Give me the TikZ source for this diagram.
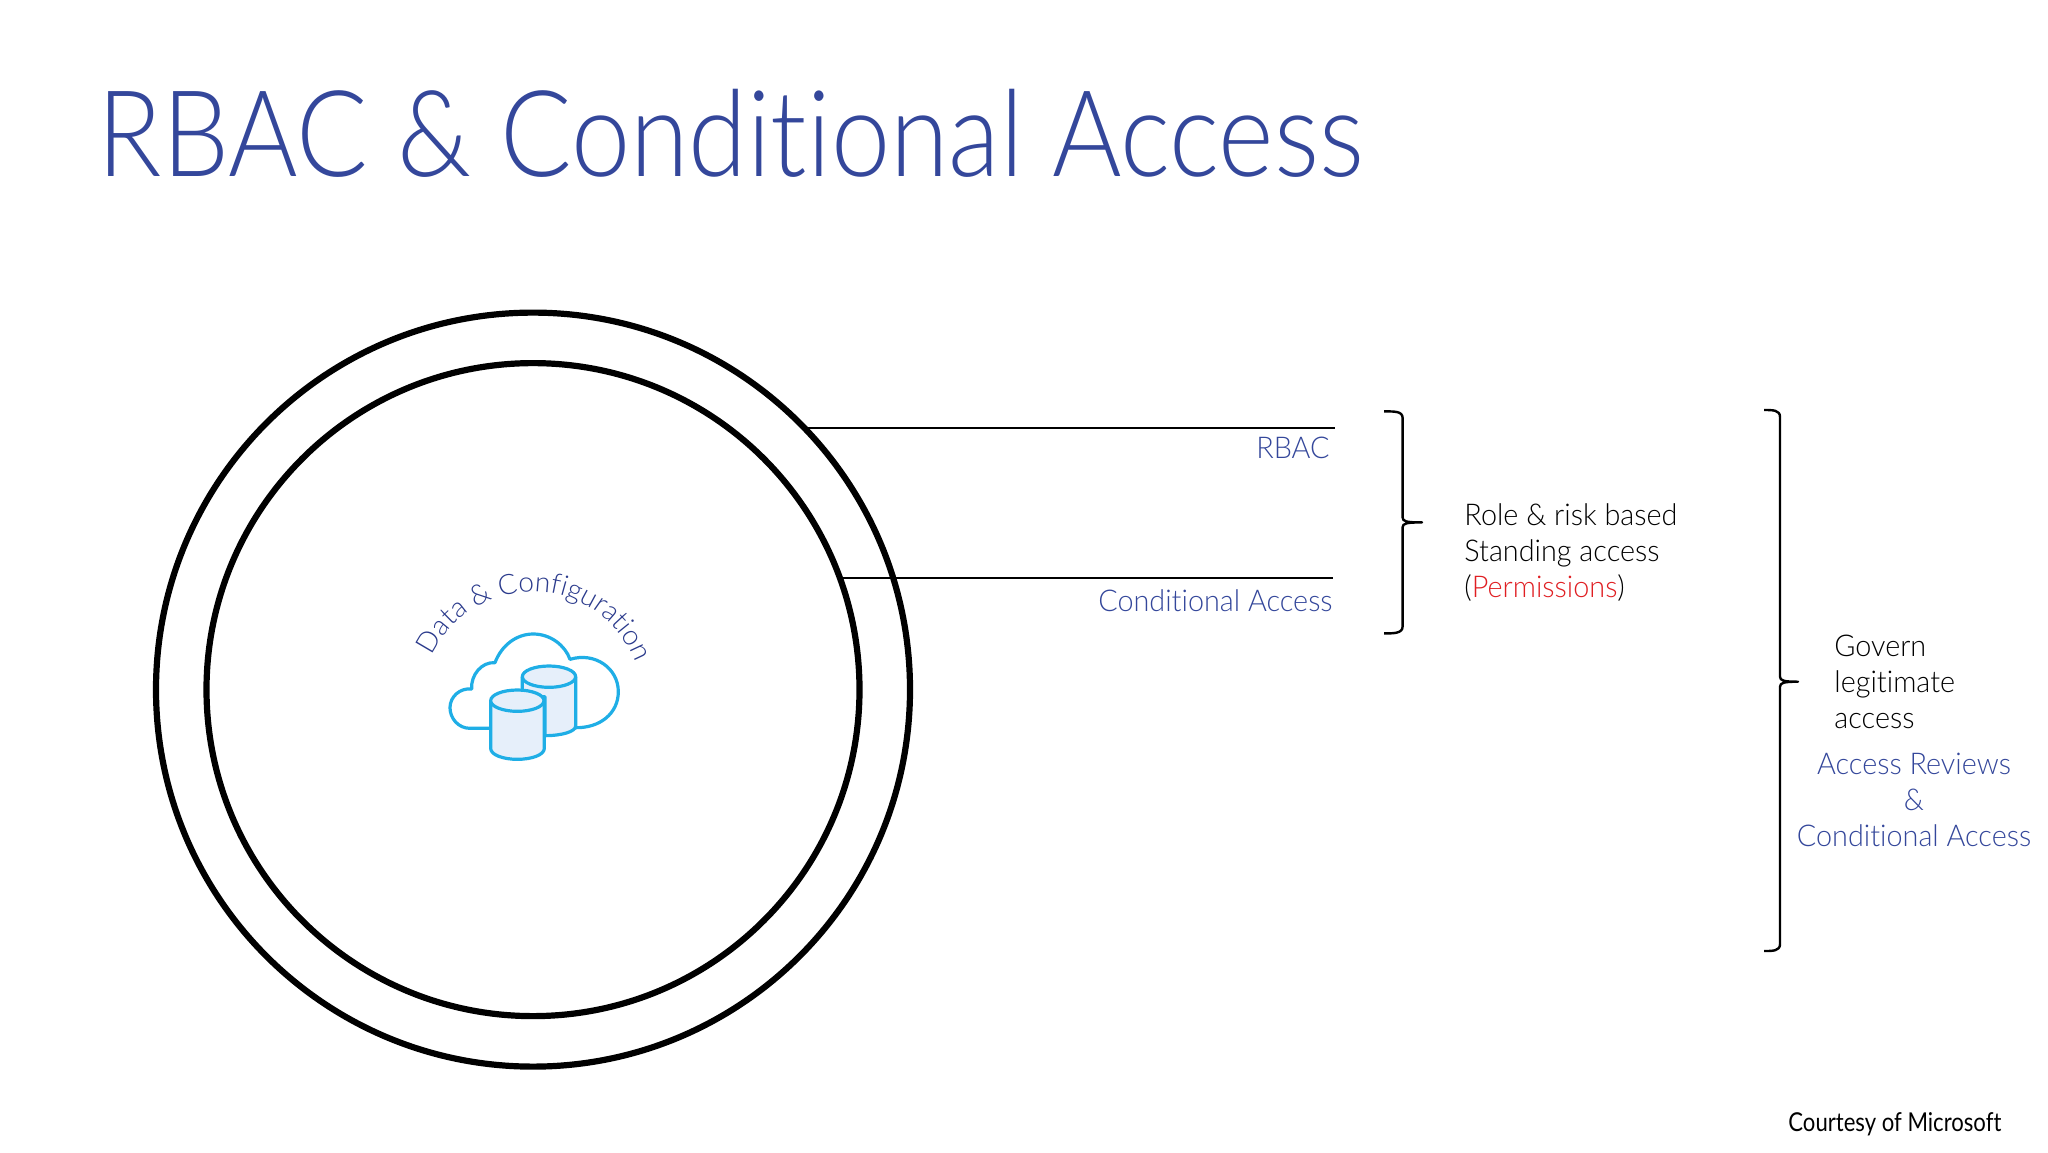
\documentclass[tikz,border=0pt]{standalone}
\usepackage{fontspec}
\usetikzlibrary{decorations.text}
\setmainfont{Lato Light}[Ligatures=NoCommon]
\newfontfamily\titlefont{Lato Light}[FakeStretch=0.885,Ligatures=NoCommon]
\newfontfamily\bodyfont{Lato Light}[FakeStretch=0.96,Ligatures=NoCommon]
\newfontfamily\courtfont{Lato}[FakeStretch=0.85,Ligatures=NoCommon]
\definecolor{titleblue}{HTML}{34479B}
\definecolor{curveblue}{HTML}{2A3A8C}
\definecolor{iconblue}{HTML}{1FAEE6}
\definecolor{iconfill}{HTML}{E6EFFA}
\definecolor{permred}{HTML}{E01E22}
\newcommand{\labelfont}{\bodyfont\fontsize{15}{18}\selectfont}
\tikzset{
  ring/.style={circle,draw=black,line width=3.1pt,inner sep=0pt,outer sep=0pt},
  rule/.style={draw=black,line width=1.1pt},
  bracepath/.style={draw=black,line width=1.2pt,line join=round},
  bluetext/.style={text=titleblue,font=\labelfont,inner sep=0pt},
  blacktext/.style={text=black,font=\labelfont,inner sep=0pt},
  iconline/.style={draw=iconblue,line width=1.6pt,line join=round},
  cyl/.style={iconline,fill=iconfill},
}
\begin{document}
\begin{tikzpicture}[x=.5pt,y=-.5pt]
\useasboundingbox (0,0) rectangle (2048,1152);
\fill[white] (0,0) rectangle (2048,1152);
% title
\node[anchor=base west,inner sep=0pt,text=titleblue,font=\titlefont\fontsize{60}{72}\selectfont] (title) at (97.5,176.5) {RBAC \& Conditional Access};
% rings
\node[ring,minimum size=377pt] (outer) at (533,689.6) {};
\node[ring,minimum size=326.5pt] (inner) at (533,689.6) {};
% connectors
\coordinate (rbacend) at (1335,424.5);
\coordinate (caend) at (1333,575);
\draw[rule] (outer.44.6) -- (outer.44.6 -| rbacend);
\draw[rule] (inner.20.6) -- (inner.20.6 -| caend);
\node[bluetext,anchor=base east] (rbac) at (1330,458) {RBAC};
\node[bluetext,anchor=base east] (ca) at (1333,611) {Conditional Access};
% first brace
\draw[bracepath] (1384,411.4) .. controls (1394,411.4) and (1402.6,411) .. (1402.6,418) -- (1402.6,517.4) .. controls (1402.6,521.4) and (1406,522.4) .. (1422,522.4) .. controls (1406,522.4) and (1402.6,523.4) .. (1402.6,527.4) -- (1402.6,626.4) .. controls (1402.6,633.4) and (1394,633.4) .. (1384,633.4);
\node[blacktext,anchor=base west] (role1) at (1464,525) {Role \& risk based};
\node[blacktext,anchor=base west] (role2) at (1464,561) {Standing access};
\node[blacktext,anchor=base west] (role3) at (1464,597) {(\textcolor{permred}{Permissions})};
% second brace
\draw[bracepath] (1764,410) .. controls (1773,410) and (1780,410) .. (1780,417) -- (1780,676.7) .. controls (1780,680.7) and (1784,681.7) .. (1798,681.7) .. controls (1784,681.7) and (1780,682.7) .. (1780,686.7) -- (1780,944) .. controls (1780,951) and (1773,951) .. (1764,951);
\node[blacktext,anchor=base west] (gov1) at (1834,656) {Govern};
\node[blacktext,anchor=base west] (gov2) at (1834,692) {legitimate};
\node[blacktext,anchor=base west] (gov3) at (1834,728) {access};
\node[bluetext,anchor=base] (ar1) at (1914,774) {Access Reviews};
\node[bluetext,anchor=base] (ar2) at (1914,810) {\&};
\node[bluetext,anchor=base] (ar3) at (1914,846) {Conditional Access};
\node[anchor=base west,inner sep=0pt,text=black,font=\courtfont\fontsize{13}{16}\selectfont] (court) at (1788,1131) {Courtesy of Microsoft};
% icon
\begin{scope}[shift={(380,540)},x=.5pt/3,y=-.5pt/3]
\path[decorate,decoration={text along path,text align={fit to path},
  text={|\fontsize{14}{16}\selectfont\color{curveblue}|Data {\&} Configuration}}]
  (458,487) ++(-155:332) arc[start angle=-155,end angle=-25,radius=332];
\draw[iconline] (330,565) -- (270,565) .. controls (235,565) and (210,535) .. (210,503)
  .. controls (210,470) and (240,443) .. (275,447)
  .. controls (272,405) and (305,365) .. (345,368)
  .. controls (365,315) and (410,282) .. (460,282)
  .. controls (510,282) and (555,315) .. (570,358)
  .. controls (645,335) and (715,385) .. (715,455)
  .. controls (715,520) and (660,565) .. (585,563);
\draw[cyl] (427,410) -- (427,470) -- (495,470) -- (495,587) .. controls (545,587) and (587,575) .. (587,558) -- (587,410);
\draw[cyl] (507,410) ellipse[x radius=80,y radius=32];
\draw[cyl] (332,482) -- (332,625) .. controls (332,645) and (370,658) .. (412,658) .. controls (455,658) and (493,645) .. (493,625) -- (493,482);
\draw[cyl] (412,482) ellipse[x radius=80,y radius=32];
\end{scope}
\end{tikzpicture}
\end{document}
